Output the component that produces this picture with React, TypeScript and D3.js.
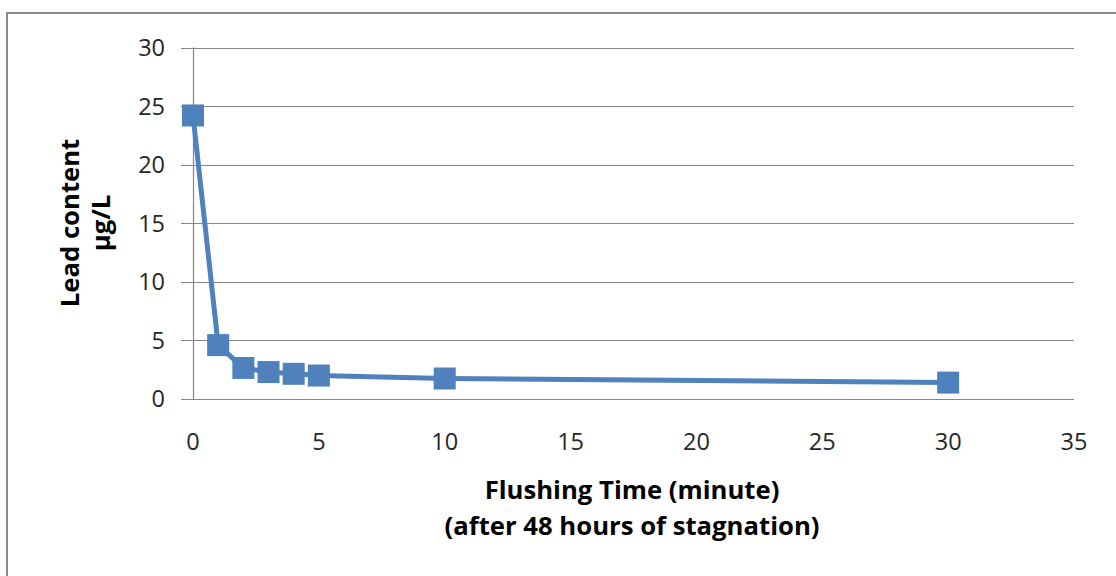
import React, { useEffect, useRef } from "react";
import * as d3 from "d3";

const flushMinutes = [0, 1, 2, 3, 4, 5, 10, 30];
const leadContent = [24.2, 4.6, 2.65, 2.3, 2.15, 2.0, 1.75, 1.4];
const xTicks = [0, 5, 10, 15, 20, 25, 30, 35];
const yTicks = [0, 5, 10, 15, 20, 25, 30];
const xTitleLines = ["Flushing Time (minute)", "(after 48 hours of stagnation)"];
const yTitleLines = ["Lead content", "µg/L"];

export default function App() {
  const ref = useRef<SVGSVGElement>(null);
  useEffect(() => {
    const svg = d3.select(ref.current);
    svg.selectAll("*").remove();
    const font = "'Open Sans', sans-serif";
    const x = d3.scaleLinear().domain([0, 35]).range([193, 1074]);
    const y = d3.scaleLinear().domain([0, 30]).range([399, 47.5]);

    svg.append("rect").attr("x", 7).attr("y", 13).attr("width", 1200).attr("height", 700)
      .attr("fill", "white").attr("stroke", "#8a8a8a").attr("stroke-width", 2);

    svg.append("g").selectAll("line").data(yTicks).join("line")
      .attr("x1", 181).attr("x2", 1074)
      .attr("y1", d => Math.round(y(d)) + 0.5).attr("y2", d => Math.round(y(d)) + 0.5)
      .attr("stroke", "#868686").attr("stroke-width", 1.2);
    svg.append("line").attr("x1", 193.5).attr("x2", 193.5).attr("y1", y(30)).attr("y2", y(0))
      .attr("stroke", "#868686").attr("stroke-width", 1.2);

    svg.append("g").selectAll("text").data(yTicks).join("text")
      .attr("x", 165).attr("y", d => y(d)).attr("dy", "0.36em").attr("text-anchor", "end")
      .attr("font-family", font).attr("font-size", 23.5).attr("fill", "#262626")
      .text(d => d);
    svg.append("g").selectAll("text").data(xTicks).join("text")
      .attr("x", d => x(d)).attr("y", 442).attr("dy", "0.36em").attr("text-anchor", "middle")
      .attr("font-family", font).attr("font-size", 23.5).attr("fill", "#262626")
      .text(d => d);

    const pts = flushMinutes.map((m, i) => [m, leadContent[i]] as [number, number]);
    svg.append("path").datum(pts)
      .attr("d", d3.line<[number, number]>().x(d => x(d[0])).y(d => y(d[1])))
      .attr("fill", "none").attr("stroke", "#4f81bd").attr("stroke-width", 5)
      .attr("stroke-linejoin", "round");
    svg.append("g").selectAll("rect").data(pts).join("rect")
      .attr("x", d => x(d[0]) - 11).attr("y", d => y(d[1]) - 11)
      .attr("width", 22).attr("height", 22).attr("fill", "#4f81bd");

    svg.append("g").selectAll("text").data(xTitleLines).join("text")
      .attr("x", 632).attr("y", (d, i) => 490 + i * 36).attr("dy", "0.36em")
      .attr("text-anchor", "middle").attr("font-family", font).attr("font-weight", "bold")
      .attr("font-size", 25.7).attr("fill", "#000").text(d => d);
    svg.append("g").selectAll("text").data(yTitleLines).join("text")
      .attr("transform", (d, i) => `translate(${70 + i * 31},223) rotate(-90)`)
      .attr("dy", "0.36em").attr("text-anchor", "middle").attr("font-family", font)
      .attr("font-weight", "bold").attr("font-size", 25.7).attr("fill", "#000").text(d => d);
  }, []);
  return (
    <div style={{ position: "absolute", left: 0, top: 0 }}>
      <svg ref={ref} width={1116} height={576} style={{ display: "block" }} />
    </div>
  );
}
